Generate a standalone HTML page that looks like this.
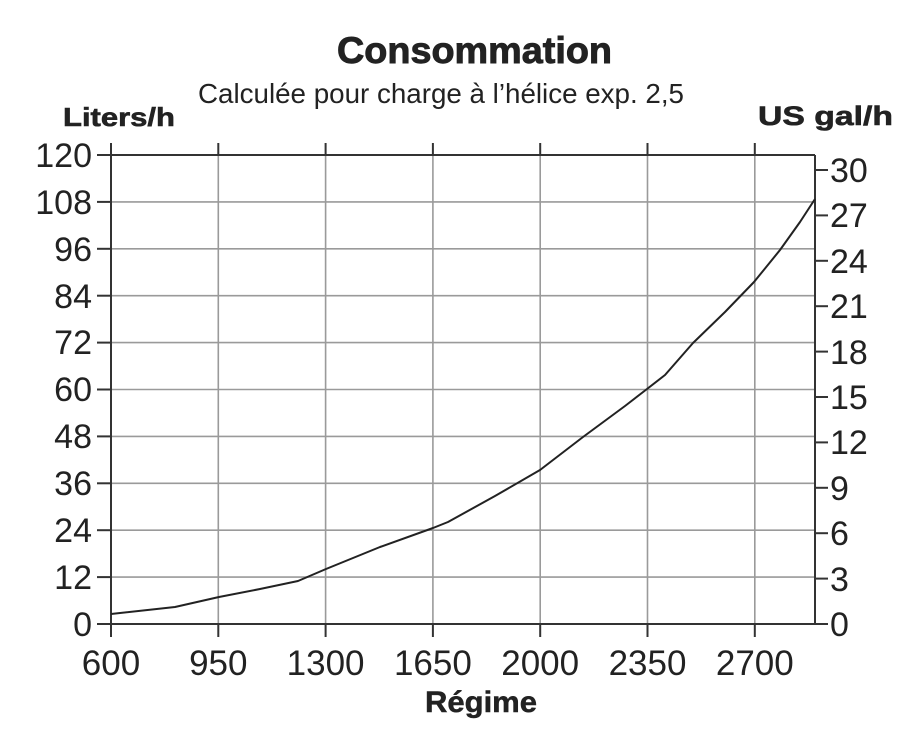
<!DOCTYPE html>
<html><head><meta charset="utf-8"><style>
html,body{margin:0;padding:0;background:#fff;}
svg{display:block;}
text{font-family:"Liberation Sans",Arial,sans-serif;fill:#222;}
</style></head><body>
<svg width="921" height="750" viewBox="0 0 921 750" xmlns="http://www.w3.org/2000/svg">
<!-- titles -->
<text x="337" y="63" font-size="37" font-weight="bold" stroke="#222" stroke-width="0.9" textLength="275" lengthAdjust="spacingAndGlyphs">Consommation</text>
<text x="198" y="103" font-size="28" textLength="486" lengthAdjust="spacingAndGlyphs">Calculée pour charge à l’hélice exp. 2,5</text>
<text x="63" y="126" font-size="26" font-weight="bold" stroke="#222" stroke-width="0.6" textLength="112" lengthAdjust="spacingAndGlyphs">Liters/h</text>
<text x="758" y="125" font-size="27" font-weight="bold" stroke="#222" stroke-width="0.6" textLength="135" lengthAdjust="spacingAndGlyphs">US gal/h</text>

<!-- horizontal grid -->
<g stroke="#9a9a9a" stroke-width="1.6">
<line x1="111" y1="577.1" x2="815" y2="577.1"/>
<line x1="111" y1="530.2" x2="815" y2="530.2"/>
<line x1="111" y1="483.3" x2="815" y2="483.3"/>
<line x1="111" y1="436.4" x2="815" y2="436.4"/>
<line x1="111" y1="389.5" x2="815" y2="389.5"/>
<line x1="111" y1="342.6" x2="815" y2="342.6"/>
<line x1="111" y1="295.7" x2="815" y2="295.7"/>
<line x1="111" y1="248.8" x2="815" y2="248.8"/>
<line x1="111" y1="201.9" x2="815" y2="201.9"/>
</g>
<!-- vertical grid -->
<g stroke="#9a9a9a" stroke-width="1.6">
<line x1="218.3" y1="155" x2="218.3" y2="624"/>
<line x1="325.6" y1="155" x2="325.6" y2="624"/>
<line x1="432.9" y1="155" x2="432.9" y2="624"/>
<line x1="540.2" y1="155" x2="540.2" y2="624"/>
<line x1="647.5" y1="155" x2="647.5" y2="624"/>
<line x1="754.8" y1="155" x2="754.8" y2="624"/>
</g>
<!-- axes & ticks -->
<g stroke="#333" stroke-width="2">
<line x1="111" y1="143" x2="111" y2="637"/>
<line x1="815" y1="155" x2="815" y2="624"/>
<line x1="111" y1="155" x2="815" y2="155"/>
<line x1="97" y1="624" x2="828" y2="624"/>
<line x1="218.3" y1="143" x2="218.3" y2="155"/><line x1="218.3" y1="624" x2="218.3" y2="637"/>
<line x1="325.6" y1="143" x2="325.6" y2="155"/><line x1="325.6" y1="624" x2="325.6" y2="637"/>
<line x1="432.9" y1="143" x2="432.9" y2="155"/><line x1="432.9" y1="624" x2="432.9" y2="637"/>
<line x1="540.2" y1="143" x2="540.2" y2="155"/><line x1="540.2" y1="624" x2="540.2" y2="637"/>
<line x1="647.5" y1="143" x2="647.5" y2="155"/><line x1="647.5" y1="624" x2="647.5" y2="637"/>
<line x1="754.8" y1="143" x2="754.8" y2="155"/><line x1="754.8" y1="624" x2="754.8" y2="637"/>
<line x1="97" y1="577.1" x2="111" y2="577.1"/>
<line x1="97" y1="530.2" x2="111" y2="530.2"/>
<line x1="97" y1="483.3" x2="111" y2="483.3"/>
<line x1="97" y1="436.4" x2="111" y2="436.4"/>
<line x1="97" y1="389.5" x2="111" y2="389.5"/>
<line x1="97" y1="342.6" x2="111" y2="342.6"/>
<line x1="97" y1="295.7" x2="111" y2="295.7"/>
<line x1="97" y1="248.8" x2="111" y2="248.8"/>
<line x1="97" y1="201.9" x2="111" y2="201.9"/>
<line x1="97" y1="155" x2="111" y2="155"/>
<line x1="815" y1="578.6" x2="828" y2="578.6"/>
<line x1="815" y1="533.2" x2="828" y2="533.2"/>
<line x1="815" y1="487.8" x2="828" y2="487.8"/>
<line x1="815" y1="442.4" x2="828" y2="442.4"/>
<line x1="815" y1="397" x2="828" y2="397"/>
<line x1="815" y1="351.6" x2="828" y2="351.6"/>
<line x1="815" y1="306.2" x2="828" y2="306.2"/>
<line x1="815" y1="260.8" x2="828" y2="260.8"/>
<line x1="815" y1="215.4" x2="828" y2="215.4"/>
<line x1="815" y1="170" x2="828" y2="170"/>
</g>

<!-- left labels -->
<g font-size="34" text-anchor="end" fill="#1e1e1e">
<text x="92" y="636">0</text>
<text x="92" y="589">12</text>
<text x="92" y="542">24</text>
<text x="92" y="495">36</text>
<text x="92" y="448">48</text>
<text x="92" y="401">60</text>
<text x="92" y="354">72</text>
<text x="92" y="308">84</text>
<text x="92" y="261">96</text>
<text x="92" y="214">108</text>
<text x="92" y="167">120</text>
</g>
<!-- right labels -->
<g font-size="34">
<text x="830" y="636">0</text>
<text x="830" y="591">3</text>
<text x="830" y="545">6</text>
<text x="830" y="500">9</text>
<text x="830" y="454">12</text>
<text x="830" y="409">15</text>
<text x="830" y="364">18</text>
<text x="830" y="318">21</text>
<text x="830" y="273">24</text>
<text x="830" y="227">27</text>
<text x="830" y="182">30</text>
</g>
<!-- bottom labels -->
<g font-size="35" text-anchor="middle">
<text x="111" y="675">600</text>
<text x="218.3" y="675">950</text>
<text x="325.6" y="675">1300</text>
<text x="432.9" y="675">1650</text>
<text x="540.2" y="675">2000</text>
<text x="647.5" y="675">2350</text>
<text x="754.8" y="675">2700</text>
</g>
<text x="425" y="712" font-size="30" font-weight="bold" stroke="#222" stroke-width="0.5" textLength="112" lengthAdjust="spacingAndGlyphs">Régime</text>

<!-- curve -->
<polyline fill="none" stroke="#222" stroke-width="2" stroke-linejoin="round"
points="111,614 175,607 219,597 260,589 298,581 326,569 380,547 433,528 448,522 495,496 540,470 583,437 625,406 647,389 665,375 693,343 725,312 754,282 780,250 800,222 815,199"/>
</svg>
</body></html>
